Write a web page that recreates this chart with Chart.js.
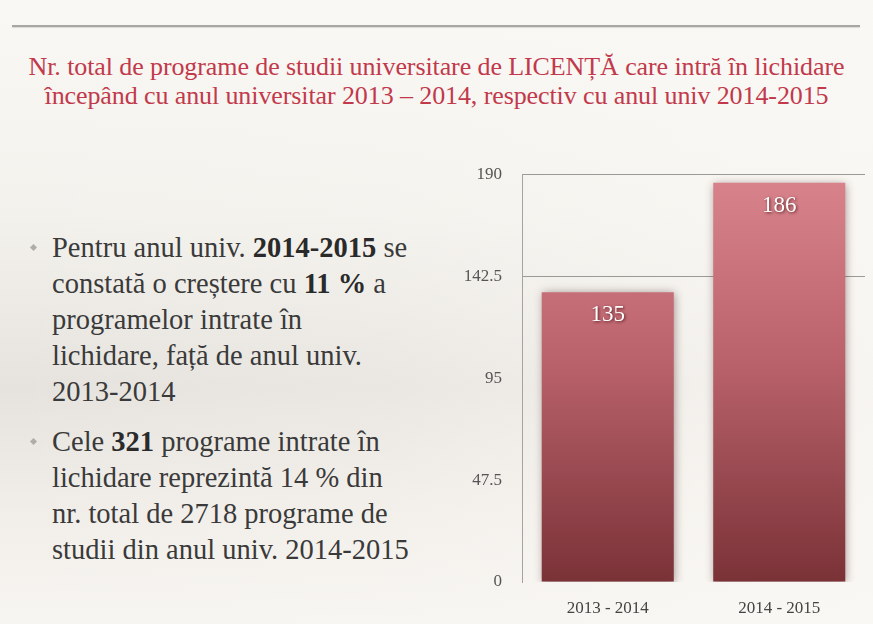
<!DOCTYPE html>
<html>
<head>
<meta charset="utf-8">
<script src="https://cdn.jsdelivr.net/npm/chart.js@4/dist/chart.umd.min.js"></script>
<style>
  html, body { margin: 0; padding: 0; }
  body {
    width: 873px; height: 624px; overflow: hidden; position: relative;
    font-family: "Liberation Serif", "DejaVu Serif", serif;
    background: linear-gradient(to bottom, #faf8f4 0%, #f3f1ec 35%, #e6e3de 62%, #f1eee9 82%, #f7f5f1 100%);
  }
  .fade {
    position: absolute; left: 0; top: 0; width: 873px; height: 624px;
    background: linear-gradient(to right, rgba(250,248,244,0) 0%, rgba(250,248,244,0.2) 45%, rgba(250,248,244,0.85) 100%);
  }
  .rule {
    position: absolute; left: 12px; top: 25px; width: 848px; height: 2px;
    background: #a9a7a4; box-shadow: 0 1px 1px rgba(0,0,0,0.12);
  }
  .title {
    position: absolute; left: 0; top: 52px; width: 873px; text-align: center;
    color: #c2394c; font-size: 26px; line-height: 29px; letter-spacing: -0.1px;
  }
  .notes { position: absolute; left: 52px; top: 230px; color: #3a3a3a; font-size: 28.5px; line-height: 36px; }
  .notes p { margin: 0 0 14px 0; position: relative; white-space: nowrap; }
  .notes p::before {
    content: ""; position: absolute; left: -21px; top: 15px; width: 5px; height: 5px;
    background: #b0aca8; transform: rotate(45deg);
  }
  .notes b { color: #2a2a2a; }
  #wrap { position: absolute; left: 440px; top: 144px; width: 433px; height: 482px; }
</style>
</head>
<body>
<div class="fade"></div>
<div class="rule"></div>
<div class="title">Nr. total de programe de studii universitare de LICENȚĂ care intră în lichidare<br>începând cu anul universitar 2013 – 2014, respectiv cu anul univ 2014-2015</div>
<div class="notes">
  <p>Pentru anul univ. <b>2014-2015</b> se<br>constată o creștere cu <b>11 %</b> a<br>programelor intrate în<br>lichidare, față de anul univ.<br>2013-2014</p>
  <p>Cele <b>321</b> programe intrate în<br>lichidare reprezintă 14 % din<br>nr. total de 2718 programe de<br>studii din anul univ. 2014-2015</p>
</div>
<div id="wrap"><canvas id="c"></canvas></div>
<script>
const categories = ["2013 - 2014", "2014 - 2015"];
const programe = [135, 186];
const yTicks = [0, 47.5, 95, 142.5, 190];

const serif = '"Liberation Serif", "DejaVu Serif", serif';

// shadow under the bars
const barShadow = {
  id: "barShadow",
  beforeDatasetsDraw(chart) {
    const ctx = chart.ctx;
    ctx.save();
    ctx.shadowColor = "rgba(60,20,20,0.45)";
    ctx.shadowBlur = 9;
    ctx.shadowOffsetX = 1;
    ctx.shadowOffsetY = 1;
  },
  afterDatasetsDraw(chart) {
    chart.ctx.restore();
  }
};

// values written inside the top of each bar
const barValues = {
  id: "barValues",
  afterDraw(chart) {
    const ctx = chart.ctx;
    const meta = chart.getDatasetMeta(0);
    ctx.save();
    ctx.font = "23px " + serif;
    ctx.textAlign = "center";
    ctx.textBaseline = "middle";
    ctx.fillStyle = "#ffffff";
    ctx.shadowColor = "rgba(60,10,10,0.8)";
    ctx.shadowBlur = 3;
    ctx.shadowOffsetX = 1;
    ctx.shadowOffsetY = 1;
    meta.data.forEach((bar, i) => {
      ctx.fillText(String(programe[i]), bar.x, bar.y + 23);
    });
    ctx.restore();
  }
};

new Chart(document.getElementById("c"), {
  type: "bar",
  data: {
    labels: categories,
    datasets: [{
      data: programe,
      borderWidth: 0,
      backgroundColor(ctx) {
        const area = ctx.chart.chartArea;
        if (!area) return "#b05862";
        const g = ctx.chart.ctx.createLinearGradient(0, area.top, 0, area.bottom);
        g.addColorStop(0, "#d9848d");
        g.addColorStop(0.45, "#bb636d");
        g.addColorStop(1, "#7a3237");
        return g;
      },
      categoryPercentage: 1,
      barPercentage: 0.77
    }]
  },
  options: {
    responsive: true,
    maintainAspectRatio: false,
    animation: false,
    layout: { padding: { top: 13, right: 8, left: 0, bottom: 0 } },
    plugins: { legend: { display: false }, tooltip: { enabled: false } },
    scales: {
      x: {
        grid: { display: false, drawTicks: false },
        border: { display: false },
        ticks: { color: "#444", font: { family: serif, size: 17 }, padding: 16 },
        afterFit(scale) { scale.height = 44; }
      },
      y: {
        min: 0,
        max: 190,
        afterBuildTicks(scale) { scale.ticks = yTicks.map(v => ({ value: v })); },
        afterFit(scale) { scale.width = 82; },
        grid: {
          drawTicks: false,
          color(ctx) { return ctx.tick && ctx.tick.value >= 142.5 ? "#9c9a97" : "rgba(0,0,0,0)"; }
        },
        border: { color: "#a5a3a0" },
        ticks: { color: "#555", font: { family: serif, size: 17 }, padding: 20 }
      }
    }
  },
  plugins: [barShadow, barValues]
});
</script>
</body>
</html>
